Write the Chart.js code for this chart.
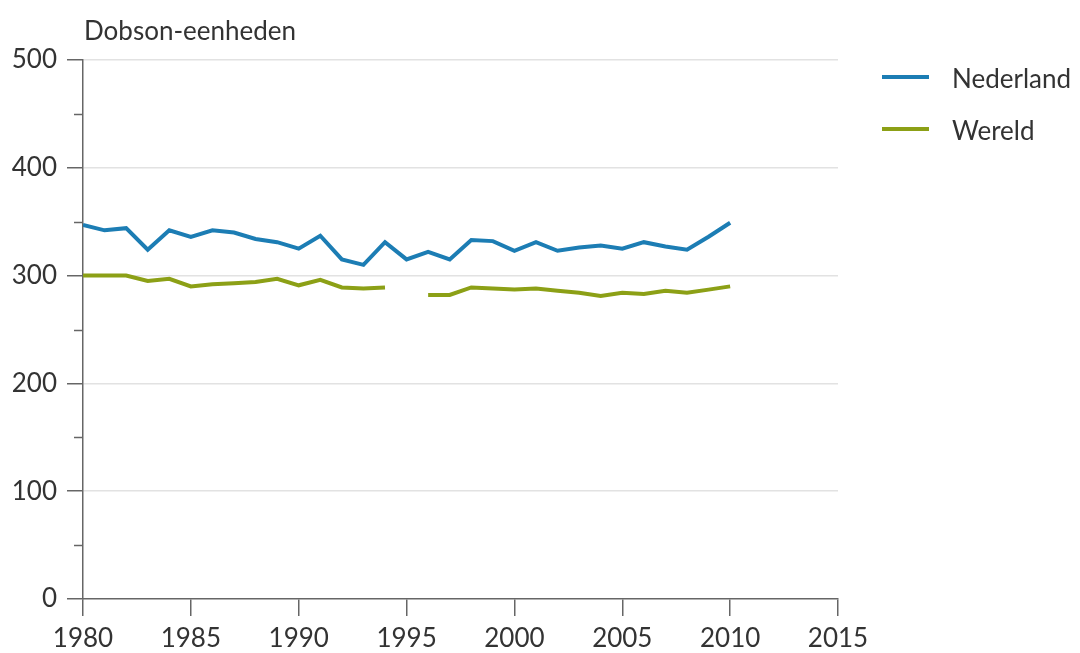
<!DOCTYPE html>
<html>
<head>
<meta charset="utf-8">
<script src="https://cdn.jsdelivr.net/npm/chart.js@4/dist/chart.umd.min.js"></script>
<style>
  html, body { margin: 0; padding: 0; background: #fff; }
  #wrap { width: 1080px; height: 653px; }
</style>
</head>
<body>
<div id="wrap"><canvas id="myChart" width="1080" height="653"></canvas></div>
<script>
// data
const years = [1980, 1981, 1982, 1983, 1984, 1985, 1986, 1987, 1988, 1989,
               1990, 1991, 1992, 1993, 1994, 1995, 1996, 1997, 1998, 1999,
               2000, 2001, 2002, 2003, 2004, 2005, 2006, 2007, 2008, 2009, 2010];
const nederland = [347, 342, 344, 324, 342, 336, 342, 340, 334, 331,
                   325, 337, 315, 310, 331, 315, 322, 315, 333, 332,
                   323, 331, 323, 326, 328, 325, 331, 327, 324, 336, 349];
const wereld = [300, 300, 300, 295, 297, 290, 292, 293, 294, 297,
                291, 296, 289, 288, 289, null, 282, 282, 289, 288,
                287, 288, 286, 284, 281, 284, 283, 286, 284, 287, 290];
const seriesNames = ['Nederland', 'Wereld'];
const yTitle = 'Dobson-eenheden';

const blue = 'rgb(28, 125, 180)';
const green = 'rgb(140, 160, 22)';
const textColor = '#333';
const axisColor = '#666';
const FONT = 'Lato';

// title, legend and the short ticks at the 50s
const extras = {
    id: 'extras',
    afterDraw(chart) {
        const c = chart.ctx;
        const y = chart.scales.y;
        c.save();
        c.strokeStyle = axisColor;
        c.lineWidth = 1.5;
        for (let v = 50; v < 500; v += 100) {
            const py = Math.round(y.getPixelForValue(v)) + 0.5;
            c.beginPath();
            c.moveTo(y.right - 9, py);
            c.lineTo(y.right, py);
            c.stroke();
        }
        c.fillStyle = textColor;
        c.font = '26px ' + FONT;
        c.textBaseline = 'alphabetic';
        c.textAlign = 'left';
        c.fillText(yTitle, chart.chartArea.left + 1, 40);

        const cols = [blue, green];
        seriesNames.forEach((name, i) => {
            const ly = 77 + i * 52;
            c.strokeStyle = cols[i];
            c.lineWidth = 4;
            c.beginPath();
            c.moveTo(882, ly);
            c.lineTo(929, ly);
            c.stroke();
            c.fillStyle = textColor;
            c.fillText(name, 952, ly + 11);
        });
        c.restore();
    }
};

const ctx = document.getElementById('myChart').getContext('2d');
const myChart = new Chart(ctx, {
    type: 'line',
    data: {
        datasets: [{
            label: seriesNames[0],
            data: years.map((yr, i) => ({ x: yr, y: nederland[i] })),
            borderColor: blue,
            borderWidth: 4,
            pointRadius: 0,
            tension: 0
        }, {
            label: seriesNames[1],
            data: years.map((yr, i) => ({ x: yr, y: wereld[i] })),
            borderColor: green,
            borderWidth: 4,
            pointRadius: 0,
            tension: 0,
            spanGaps: false
        }]
    },
    options: {
        responsive: false,
        animation: false,
        layout: { padding: { top: 60, right: 242, left: 0, bottom: 0 } },
        plugins: {
            legend: { display: false },
            tooltip: { enabled: false }
        },
        scales: {
            x: {
                type: 'linear',
                min: 1980,
                max: 2015,
                afterFit(scale) { scale.height = 54; },
                ticks: {
                    stepSize: 5,
                    padding: 7,
                    color: textColor,
                    font: { family: FONT, size: 26 },
                    callback: v => String(v),
                    maxRotation: 0
                },
                grid: {
                    drawOnChartArea: false,
                    tickLength: 17,
                    tickColor: axisColor,
                    lineWidth: 1.5
                },
                border: { color: axisColor, width: 1.5 }
            },
            y: {
                min: 0,
                max: 500,
                afterFit(scale) { scale.width = 83; },
                ticks: {
                    stepSize: 100,
                    padding: 10,
                    color: textColor,
                    font: { family: FONT, size: 26 }
                },
                grid: {
                    color: c => c.tick && c.tick.value === 0 ? 'rgba(0,0,0,0)' : '#e2e2e2',
                    tickColor: axisColor,
                    tickLength: 16,
                    lineWidth: 1.5
                },
                border: { color: axisColor, width: 1.5 }
            }
        }
    },
    plugins: [extras]
});
</script>
</body>
</html>
